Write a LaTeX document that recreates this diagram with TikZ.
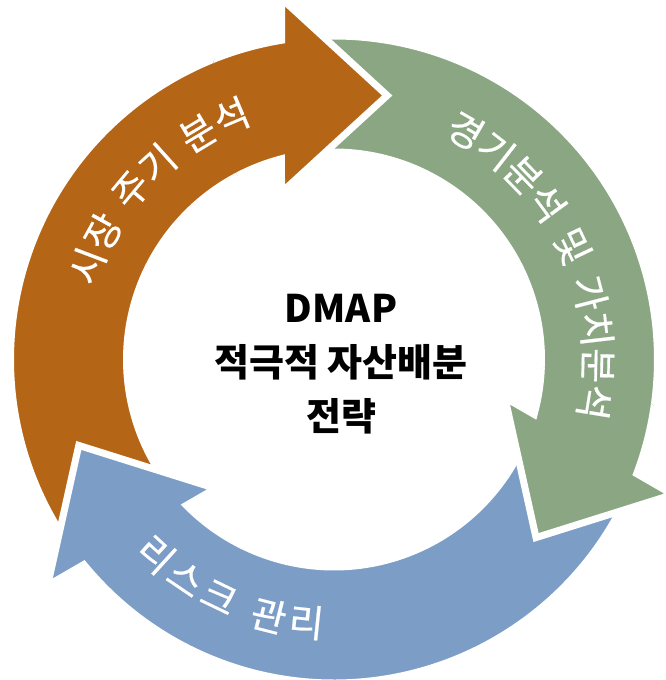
\documentclass[tikz,border=0pt]{standalone}
\usepackage{fontspec}
\newfontfamily\kr{Noto Sans CJK KR}
\newfontfamily\krarc[FakeBold=0.5]{Noto Sans CJK KR}
\definecolor{cbrown}{RGB}{181,101,22}
\definecolor{cgreen}{RGB}{138,166,130}
\definecolor{cblue}{RGB}{124,158,198}
\def\cx{334}\def\cy{-359.5}
\def\Ro{323.5}\def\Ri{207.5}\def\Rt{264}
\newcommand\arrowshape[1]{%
  \fill[#1, draw=white, line width=7, line join=miter]
    (212:\Ro) arc[start angle=212, end angle=99.34, radius=\Ro]
    -- (-52.5,361) -- (53.2,264) -- (-52.5,167)
    -- (104.66:\Ri) arc[start angle=104.66, end angle=212, radius=\Ri]
    -- cycle;}
\tikzset{
  archar/.style={text=white, inner sep=0pt, anchor=center,
      font=\krarc\fontsize{38}{38}\selectfont},
  centertext/.style={font=\kr\bfseries\fontsize{38}{54}\selectfont,
      align=center, text=black}
}
\begin{document}
\begin{tikzpicture}[x=1pt,y=1pt]
\useasboundingbox (0,0) rectangle (665,-680);
% full arrows
\begin{scope}[shift={(\cx,\cy)}, rotate=0]\arrowshape{cbrown}\end{scope}
\begin{scope}[shift={(\cx,\cy)}, rotate=-120]\arrowshape{cgreen}\end{scope}
\begin{scope}[shift={(\cx,\cy)}, rotate=120]\arrowshape{cblue}\end{scope}
% heads laid over the next tail
\begin{scope}[shift={(\cx,\cy)}, rotate=0]
  \clip (0,264) circle (125);
  \arrowshape{cbrown}
\end{scope}
\begin{scope}[shift={(\cx,\cy)}, rotate=-120]
  \clip (0,264) circle (125);
  \arrowshape{cgreen}
\end{scope}
% labels on the arrows, one glyph at a time
\foreach \ch/\th [count=\i] in {시/-69.2, 장/-61.1, 주/-50.1, 기/-42.0, 분/-31.0, 석/-22.9}
  \node[archar, rotate={0-(\th)}] (b\i) at ({\cx+\Rt*sin(\th)}, {\cy+\Rt*cos(\th)}) {\ch};
\foreach \ch/\th [count=\i] in {경/29.9, 기/37.85, 분/45.8, 석/53.75, 및/64.6, 가/75.45, 치/83.4, 분/91.35, 석/99.3}
  \node[archar, rotate={0-(\th)}] (g\i) at ({\cx+\Rt*sin(\th)}, {\cy+\Rt*cos(\th)}) {\ch};
\foreach \ch/\th [count=\i] in {리/222.4, 스/214.1, 크/205.8, 관/194.3, 리/186.0}
  \node[archar, rotate={180-(\th)}] (l\i) at ({\cx+\Rt*sin(\th)}, {\cy+\Rt*cos(\th)}) {\ch};
\node[centertext] (title) at (341,-364) {DMAP\\적극적 자산배분\\전략};
\end{tikzpicture}
\end{document}
